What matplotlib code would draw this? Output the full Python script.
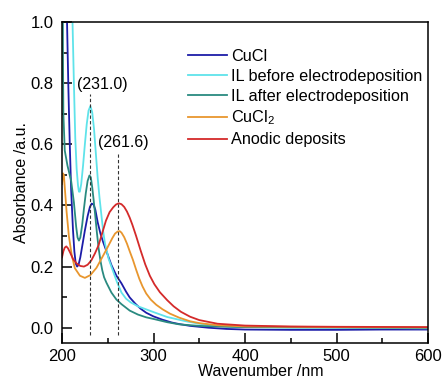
import matplotlib
matplotlib.use("Agg")
import matplotlib.pyplot as plt
from matplotlib.ticker import MultipleLocator, FormatStrFormatter

plt.rcParams['font.family'] = ['Liberation Sans', 'DejaVu Sans']
plt.rcParams['mathtext.fontset'] = 'custom'
plt.rcParams['mathtext.rm'] = 'Liberation Sans'
plt.rcParams['mathtext.it'] = 'Liberation Sans'

# ---- data ----
cucl_wl = [200, 204, 205.5, 207, 208.5, 210, 212, 213.5, 215, 216.5, 218, 220, 222, 225, 228, 230.5, 232.5,
           234.5, 236.5, 239, 242, 245, 248.6, 254, 259.5, 265, 270, 274, 280, 286, 292, 300, 310, 320, 328,
           340, 360, 380, 400, 450, 500, 550, 600]
cucl_ab = [1.3, 1.15, 1.0, 0.78, 0.6, 0.45, 0.32, 0.25, 0.21, 0.2, 0.205, 0.23, 0.265, 0.318, 0.365, 0.395, 0.406,
           0.403, 0.385, 0.345, 0.308, 0.28, 0.25, 0.205, 0.17, 0.145, 0.118, 0.099, 0.079, 0.062, 0.049, 0.037,
           0.026, 0.017, 0.012, 0.006, 0.0, -0.004, -0.006, -0.007, -0.007, -0.006, -0.006]

ilb_wl = [200, 201, 202, 208, 210, 211.5, 213, 214.5, 216, 217.5, 218.5, 219.5, 221, 223, 225, 227, 229, 231,
          233, 235, 237, 239, 241, 243, 245, 247, 251, 255.8, 260, 265, 270, 275, 283, 292, 301, 315, 334, 350,
          370, 400, 450, 500, 600]
ilb_ab = [0.8, 1.05, 1.3, 1.3, 1.1, 1.0, 0.8, 0.62, 0.52, 0.465, 0.445, 0.445, 0.47, 0.53, 0.6, 0.665, 0.71, 0.725,
          0.705, 0.65, 0.57, 0.49, 0.425, 0.37, 0.315, 0.275, 0.225, 0.185, 0.15, 0.115, 0.095, 0.083, 0.07, 0.06,
          0.05, 0.035, 0.022, 0.013, 0.006, 0.002, 0.0, 0.0, -0.002]

ila_wl = [200, 200.8, 201.5, 203, 206, 210, 213, 215.5, 217, 218.5, 220, 222, 224, 226, 228, 230, 231.5, 233,
          234.5, 236, 238, 240, 242, 244, 246, 248.6, 254, 259.5, 265, 274, 283, 292, 301, 315, 328, 350, 380,
          400, 600]
ila_ab = [1.3, 1.0, 0.7, 0.58, 0.53, 0.48, 0.41, 0.33, 0.295, 0.285, 0.295, 0.335, 0.39, 0.44, 0.48, 0.498,
          0.492, 0.46, 0.42, 0.377, 0.315, 0.26, 0.22, 0.188, 0.165, 0.147, 0.115, 0.092, 0.077, 0.056, 0.043,
          0.034, 0.028, 0.018, 0.011, 0.006, 0.003, 0.002, 0.0]

cucl2_wl = [200, 201, 202, 203.5, 205, 207.5, 210.5, 214, 219.6, 225, 231, 237.7, 243, 248.6, 255, 258, 261,
            263, 265, 268, 271, 274, 277.5, 281, 284.5, 288, 292, 297, 303, 310, 318, 328, 340, 350, 370, 400,
            500, 600]
cucl2_ab = [0.47, 0.505, 0.5, 0.44, 0.38, 0.3, 0.24, 0.195, 0.17, 0.163, 0.172, 0.196, 0.225, 0.256, 0.293,
            0.308, 0.315, 0.316, 0.311, 0.296, 0.275, 0.25, 0.222, 0.19, 0.16, 0.135, 0.112, 0.092, 0.075, 0.06,
            0.046, 0.033, 0.021, 0.015, 0.008, 0.004, 0.002, 0.001]

anod_wl = [200, 201.5, 203, 204.7, 206.5, 209, 212, 216, 220, 224, 228, 232, 236, 240, 244, 248, 252, 256,
           259, 262, 265, 268, 271, 274, 277, 281, 286, 291, 296, 301, 307, 315, 322, 330, 340, 350, 370, 400,
           450, 500, 600]
anod_ab = [0.23, 0.25, 0.262, 0.266, 0.26, 0.245, 0.225, 0.21, 0.202, 0.2, 0.206, 0.22, 0.243, 0.27, 0.31,
           0.35, 0.378, 0.394, 0.403, 0.407, 0.404, 0.395, 0.38, 0.36, 0.336, 0.3, 0.252, 0.207, 0.17, 0.142,
           0.116, 0.09, 0.07, 0.052, 0.036, 0.025, 0.013, 0.007, 0.004, 0.003, 0.002]

labels = ['CuCl', 'IL before electrodeposition', 'IL after electrodeposition', 'CuCl$_2$', 'Anodic deposits']
colors = ['#1c1ca8', '#5fe3ea', '#2a8a80', '#e8962e', '#d42a2a']

peak_pos = [231.0, 261.6]
peak_top = [0.764, 0.567]
peak_text = ['(231.0)', '(261.6)']
peak_text_xy = [(244.6, 0.797), (267.4, 0.607)]

# ---- figure ----
fig = plt.figure(figsize=(4.43, 3.79), dpi=100)
ax = fig.add_axes([62/443, 1 - 343/379, (428-62)/443, (343-22)/379])

series = [(cucl_wl, cucl_ab), (ilb_wl, ilb_ab), (ila_wl, ila_ab), (cucl2_wl, cucl2_ab), (anod_wl, anod_ab)]
for (x, y), lab, c in zip(series, labels, colors):
    ax.plot(x, y, color=c, lw=1.3, label=lab, solid_joinstyle='round')

for p, t in zip(peak_pos, peak_top):
    ax.plot([p, p], [-0.023, t], color='#333333', lw=0.8, linestyle=(0, (3, 2)))
for txt, (tx, ty) in zip(peak_text, peak_text_xy):
    ax.text(tx, ty, txt, ha='center', va='center', fontsize=11.5)

ax.set_xlim(200, 600)
ax.set_ylim(-0.05, 1.0)
ax.xaxis.set_major_locator(MultipleLocator(100))
ax.xaxis.set_minor_locator(MultipleLocator(50))
ax.yaxis.set_major_locator(MultipleLocator(0.2))
ax.yaxis.set_minor_locator(MultipleLocator(0.1))
ax.yaxis.set_major_formatter(FormatStrFormatter('%.1f'))
ax.tick_params(which='both', direction='in', top=False, right=False, width=1.1, labelsize=12)
ax.tick_params(which='major', length=7, pad=6)
ax.tick_params(axis='x', which='major', pad=4)
ax.tick_params(which='minor', length=3.5)
for s in ax.spines.values():
    s.set_linewidth(1.1)

ax.set_xlabel('Wavenumber /nm', fontsize=11.5)
ax.set_ylabel('Absorbance /a.u.', fontsize=11.5)
ax.xaxis.set_label_coords(0.544, -0.066)
ax.yaxis.set_label_coords(-0.09, 0.5)

ax.legend(loc='upper left', bbox_to_anchor=(0.344, 0.917), frameon=False, fontsize=11.7,
          handlelength=2.4, handletextpad=0.25, labelspacing=0.31, borderpad=0, borderaxespad=0)

fig.savefig('out.png', dpi=100)
